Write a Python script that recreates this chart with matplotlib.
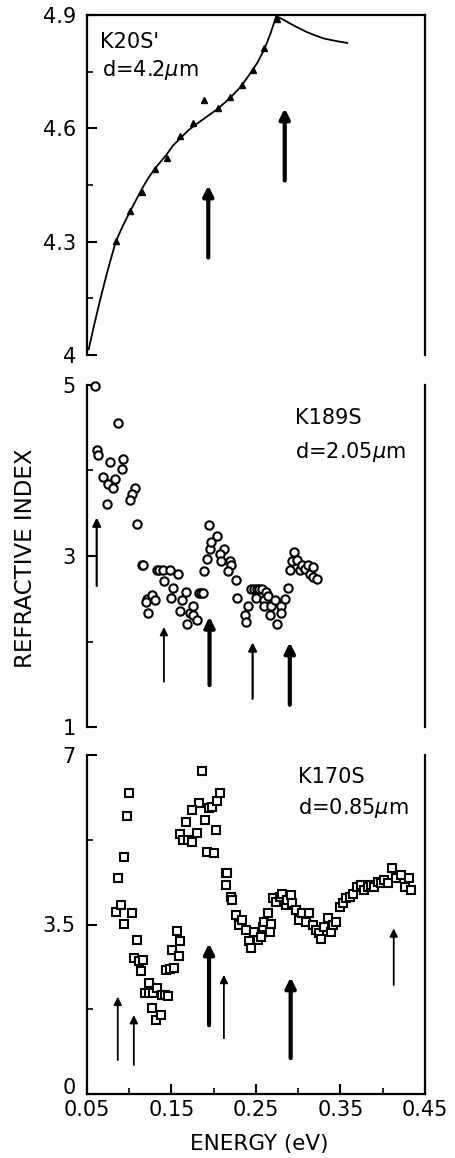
import matplotlib
matplotlib.use("Agg")
import matplotlib.pyplot as plt
from matplotlib.transforms import ScaledTranslation

# ---- data ----
# top panel: K20S', fitted curve and triangles
k20_curve_e = [0.052, 0.058, 0.066, 0.074, 0.084, 0.092, 0.101, 0.108, 0.115, 0.123,
               0.131, 0.144, 0.152, 0.161, 0.170, 0.180, 0.190, 0.205, 0.219, 0.232,
               0.244, 0.252, 0.260, 0.267, 0.274, 0.282, 0.290, 0.300, 0.310, 0.320,
               0.330, 0.345, 0.358]
k20_curve_n = [4.015, 4.075, 4.15, 4.22, 4.30, 4.34, 4.38, 4.41, 4.44, 4.47,
               4.495, 4.53, 4.555, 4.575, 4.595, 4.612, 4.628, 4.652, 4.68, 4.71,
               4.748, 4.775, 4.81, 4.85, 4.897, 4.888, 4.878, 4.866, 4.855, 4.846,
               4.838, 4.831, 4.826]
k20_e = [0.0838, 0.1006, 0.115, 0.1308, 0.1445, 0.160, 0.175, 0.189, 0.205, 0.219,
         0.233, 0.246, 0.259, 0.275]
k20_n = [4.301, 4.380, 4.431, 4.493, 4.522, 4.581, 4.614, 4.674, 4.655, 4.683,
         4.714, 4.754, 4.813, 4.889]
k20_arrow_e = [0.1935, 0.284]
k20_arrow_tail = [4.258, 4.462]
k20_arrow_tip = [4.449, 4.653]
k20_arrow_w = [3.0, 3.0]

# middle panel: K189S, open circles
k189_e = [0.0595, 0.087, 0.0615, 0.0634, 0.0772, 0.093, 0.091, 0.0693, 0.0752, 0.083,
          0.081, 0.0733, 0.1068, 0.1029, 0.1009, 0.1088, 0.1147, 0.1165, 0.1206, 0.1265,
          0.1305, 0.1198, 0.1226, 0.1325, 0.1355, 0.140, 0.148, 0.141, 0.158, 0.152,
          0.150, 0.162, 0.167, 0.160, 0.168, 0.172, 0.176, 0.176, 0.180, 0.182,
          0.1845, 0.187, 0.188, 0.192, 0.194, 0.196, 0.197, 0.204, 0.212, 0.207,
          0.209, 0.219, 0.221, 0.217, 0.226, 0.228, 0.237, 0.238, 0.241, 0.244,
          0.248, 0.251, 0.254, 0.257, 0.250, 0.260, 0.260, 0.262, 0.264, 0.266,
          0.268, 0.272, 0.275, 0.280, 0.280, 0.284, 0.288, 0.290, 0.293, 0.295,
          0.299, 0.302, 0.304, 0.308, 0.312, 0.314, 0.318, 0.318, 0.322]
k189_n = [4.99, 4.55, 4.24, 4.18, 4.10, 4.14, 4.02, 3.92, 3.84, 3.90,
          3.79, 3.61, 3.79, 3.73, 3.65, 3.37, 2.89, 2.90, 2.50, 2.54,
          2.49, 2.46, 2.33, 2.84, 2.84, 2.84, 2.84, 2.71, 2.79, 2.63,
          2.51, 2.49, 2.58, 2.36, 2.21, 2.33, 2.41, 2.31, 2.25, 2.57,
          2.57, 2.57, 2.82, 2.96, 3.36, 3.08, 3.16, 3.23, 3.08, 3.02,
          2.94, 2.94, 2.90, 2.82, 2.72, 2.51, 2.31, 2.23, 2.41, 2.61,
          2.61, 2.61, 2.61, 2.61, 2.51, 2.49, 2.41, 2.58, 2.53, 2.31,
          2.41, 2.49, 2.21, 2.41, 2.33, 2.50, 2.62, 2.84, 2.94, 3.05,
          2.95, 2.84, 2.90, 2.85, 2.90, 2.79, 2.87, 2.75, 2.73]
k189_arrow_e = [0.0615, 0.141, 0.195, 0.246, 0.290]
k189_arrow_tail = [2.65, 1.53, 1.49, 1.33, 1.26]
k189_arrow_tip = [3.45, 2.17, 2.29, 1.99, 1.99]
k189_arrow_w = [1.6, 1.3, 3.0, 1.6, 3.0]

# bottom panel: K170S, open squares
k170_e = [0.1865, 0.0995, 0.0975, 0.1826, 0.1738, 0.1667, 0.160, 0.164, 0.169, 0.174,
          0.1806, 0.190, 0.1944, 0.198, 0.204, 0.2075, 0.2023, 0.1916, 0.2004, 0.0935,
          0.0864, 0.0848, 0.0907, 0.0935, 0.1034, 0.1094, 0.1054, 0.111, 0.116, 0.114,
          0.123, 0.119, 0.1236, 0.128, 0.133, 0.139, 0.1426, 0.146, 0.127, 0.132,
          0.137, 0.143, 0.148, 0.153, 0.151, 0.159, 0.160, 0.156, 0.214, 0.216,
          0.214, 0.220, 0.222, 0.226, 0.230, 0.234, 0.238, 0.242, 0.244, 0.248,
          0.252, 0.256, 0.258, 0.260, 0.264, 0.266, 0.268, 0.270, 0.274, 0.278,
          0.281, 0.285, 0.287, 0.291, 0.293, 0.297, 0.301, 0.305, 0.309, 0.313,
          0.317, 0.321, 0.325, 0.327, 0.331, 0.335, 0.339, 0.341, 0.345, 0.349,
          0.353, 0.357, 0.361, 0.365, 0.369, 0.374, 0.378, 0.382, 0.386, 0.390,
          0.394, 0.398, 0.402, 0.406, 0.411, 0.416, 0.422, 0.426, 0.431, 0.434]
k170_n = [6.66, 6.22, 5.74, 6.00, 5.86, 5.62, 5.36, 5.24, 5.24, 5.21,
          5.38, 5.66, 5.90, 5.93, 6.04, 6.22, 5.45, 5.00, 4.97, 4.90,
          4.45, 3.76, 3.90, 3.52, 3.73, 3.18, 2.80, 2.75, 2.76, 2.53,
          2.29, 2.08, 2.08, 2.08, 2.18, 2.04, 2.04, 2.03, 1.77, 1.53,
          1.63, 2.56, 2.58, 2.60, 2.97, 2.84, 3.15, 3.37, 4.56, 4.56,
          4.32, 4.07, 4.00, 3.70, 3.49, 3.59, 3.39, 3.15, 3.01, 3.35,
          3.18, 3.25, 3.45, 3.56, 3.73, 3.35, 3.52, 4.04, 3.97, 4.07,
          4.14, 3.90, 4.00, 4.11, 3.94, 3.80, 3.59, 3.73, 3.56, 3.73,
          3.49, 3.39, 3.32, 3.21, 3.45, 3.63, 3.35, 3.49, 3.56, 3.87,
          3.94, 4.04, 4.07, 4.14, 4.28, 4.32, 4.21, 4.28, 4.32, 4.28,
          4.38, 4.35, 4.42, 4.35, 4.67, 4.45, 4.52, 4.28, 4.45, 4.21]
k170_arrow_e = [0.0864, 0.1054, 0.1944, 0.212, 0.291, 0.413]
k170_arrow_tail = [0.70, 0.60, 1.42, 1.15, 0.74, 2.25]
k170_arrow_tip = [2.01, 1.63, 3.11, 2.46, 2.41, 3.42]
k170_arrow_w = [1.3, 1.3, 3.0, 1.3, 3.0, 1.3]

x_ticks = [0.05, 0.15, 0.25, 0.35, 0.45]
x_ticklabels = ["0.05", "0.15", "0.25", "0.35", "0.45"]

FS = 15
W, H = 456, 1158
fig = plt.figure(figsize=(W / 100, H / 100), dpi=100)
plt.rcParams['font.family'] = ['DejaVu Sans']


def make_axes(top_px, bot_px, ylim, yticks, yticklabels, yminor, top_spine, bottom_spine):
    left, right = 87, 425
    ax = fig.add_axes([left / W, 1 - bot_px / H, (right - left) / W, (bot_px - top_px) / H])
    ax.set_xlim(0.05, 0.45)
    ax.set_ylim(*ylim)
    for s in ax.spines.values():
        s.set_linewidth(1.6)
    ax.spines['top'].set_visible(top_spine)
    ax.spines['bottom'].set_visible(bottom_spine)
    ax.set_yticks(yticks)
    ax.set_yticklabels(yticklabels)
    ax.set_yticks(yminor, minor=True)
    ax.tick_params(axis='y', which='major', direction='in', length=7, width=1.5,
                   labelsize=FS, pad=8, right=False)
    ax.tick_params(axis='y', which='minor', direction='in', length=4, width=1.2, right=False)
    if bottom_spine:
        ax.set_xticks(x_ticks)
        ax.set_xticklabels(x_ticklabels)
        ax.set_xticks([0.1, 0.2, 0.3, 0.4], minor=True)
        ax.tick_params(axis='x', which='major', direction='in', length=7, width=1.5,
                       labelsize=FS, pad=4, top=False)
        ax.tick_params(axis='x', which='minor', direction='in', length=4, width=1.2, top=False)
    else:
        ax.set_xticks([])
    return ax


def draw_arrows(ax, es, tails, tips, widths):
    for e, t0, t1, w in zip(es, tails, tips, widths):
        ax.annotate('', xy=(e, t1), xytext=(e, t0),
                    arrowprops=dict(arrowstyle='-|>', color='black', lw=w,
                                    mutation_scale=9 + 2 * w, shrinkA=0, shrinkB=0))


# top panel
ax1 = make_axes(15, 355, (4.0, 4.9), [4.0, 4.3, 4.6, 4.9], ["4", "4.3", "4.6", "4.9"],
                [4.15, 4.45, 4.75], True, False)
ax1.plot(k20_curve_e, k20_curve_n, color='black', lw=1.3, clip_on=False)
ax1.plot(k20_e, k20_n, linestyle='none', marker='^', color='black', markersize=5, clip_on=False)
draw_arrows(ax1, k20_arrow_e, k20_arrow_tail, k20_arrow_tip, k20_arrow_w)
ax1.text(0.0654, 4.829, "K20S'", fontsize=FS, va='center')
ax1.text(0.0678, 4.754, r"d=4.2$\mu$m", fontsize=FS, va='center')

# middle panel
ax2 = make_axes(385, 727, (1, 5), [1, 3, 5], ["1", "3", "5"], [2, 4], False, False)
ax2.plot(k189_e, k189_n, linestyle='none', marker='o', markerfacecolor='white',
         markeredgecolor='black', markeredgewidth=1.5, markersize=6, clip_on=False)
draw_arrows(ax2, k189_arrow_e, k189_arrow_tail, k189_arrow_tip, k189_arrow_w)
ax2.text(0.296, 4.61, "K189S", fontsize=FS, va='center')
ax2.text(0.296, 4.22, r"d=2.05$\mu$m", fontsize=FS, va='center')

# bottom panel
ax3 = make_axes(755, 1094, (0, 7), [0, 3.5, 7], ["0", "3.5", "7"], [1.75, 5.25], False, True)
ax3.plot(k170_e, k170_n, linestyle='none', marker='s', markerfacecolor='white',
         markeredgecolor='black', markeredgewidth=1.5, markersize=6, clip_on=False)
draw_arrows(ax3, k170_arrow_e, k170_arrow_tail, k170_arrow_tip, k170_arrow_w)
ax3.text(0.30, 6.55, "K170S", fontsize=FS, va='center')
ax3.text(0.30, 5.9, r"d=0.85$\mu$m", fontsize=FS, va='center')

# lift the "0" a little so it does not sit on top of "0.05"
zero_lbl = ax3.get_yticklabels()[0]
zero_lbl.set_transform(zero_lbl.get_transform() + ScaledTranslation(0, 6 / 72, fig.dpi_scale_trans))

fig.text(26 / W, 1 - 558 / H, "REFRACTIVE INDEX", rotation=90, fontsize=16.5,
         ha='center', va='center')
fig.text(259 / W, 1 - 1144 / H, "ENERGY (eV)", fontsize=15.5, ha='center', va='center')

fig.savefig("out.png", dpi=100)
